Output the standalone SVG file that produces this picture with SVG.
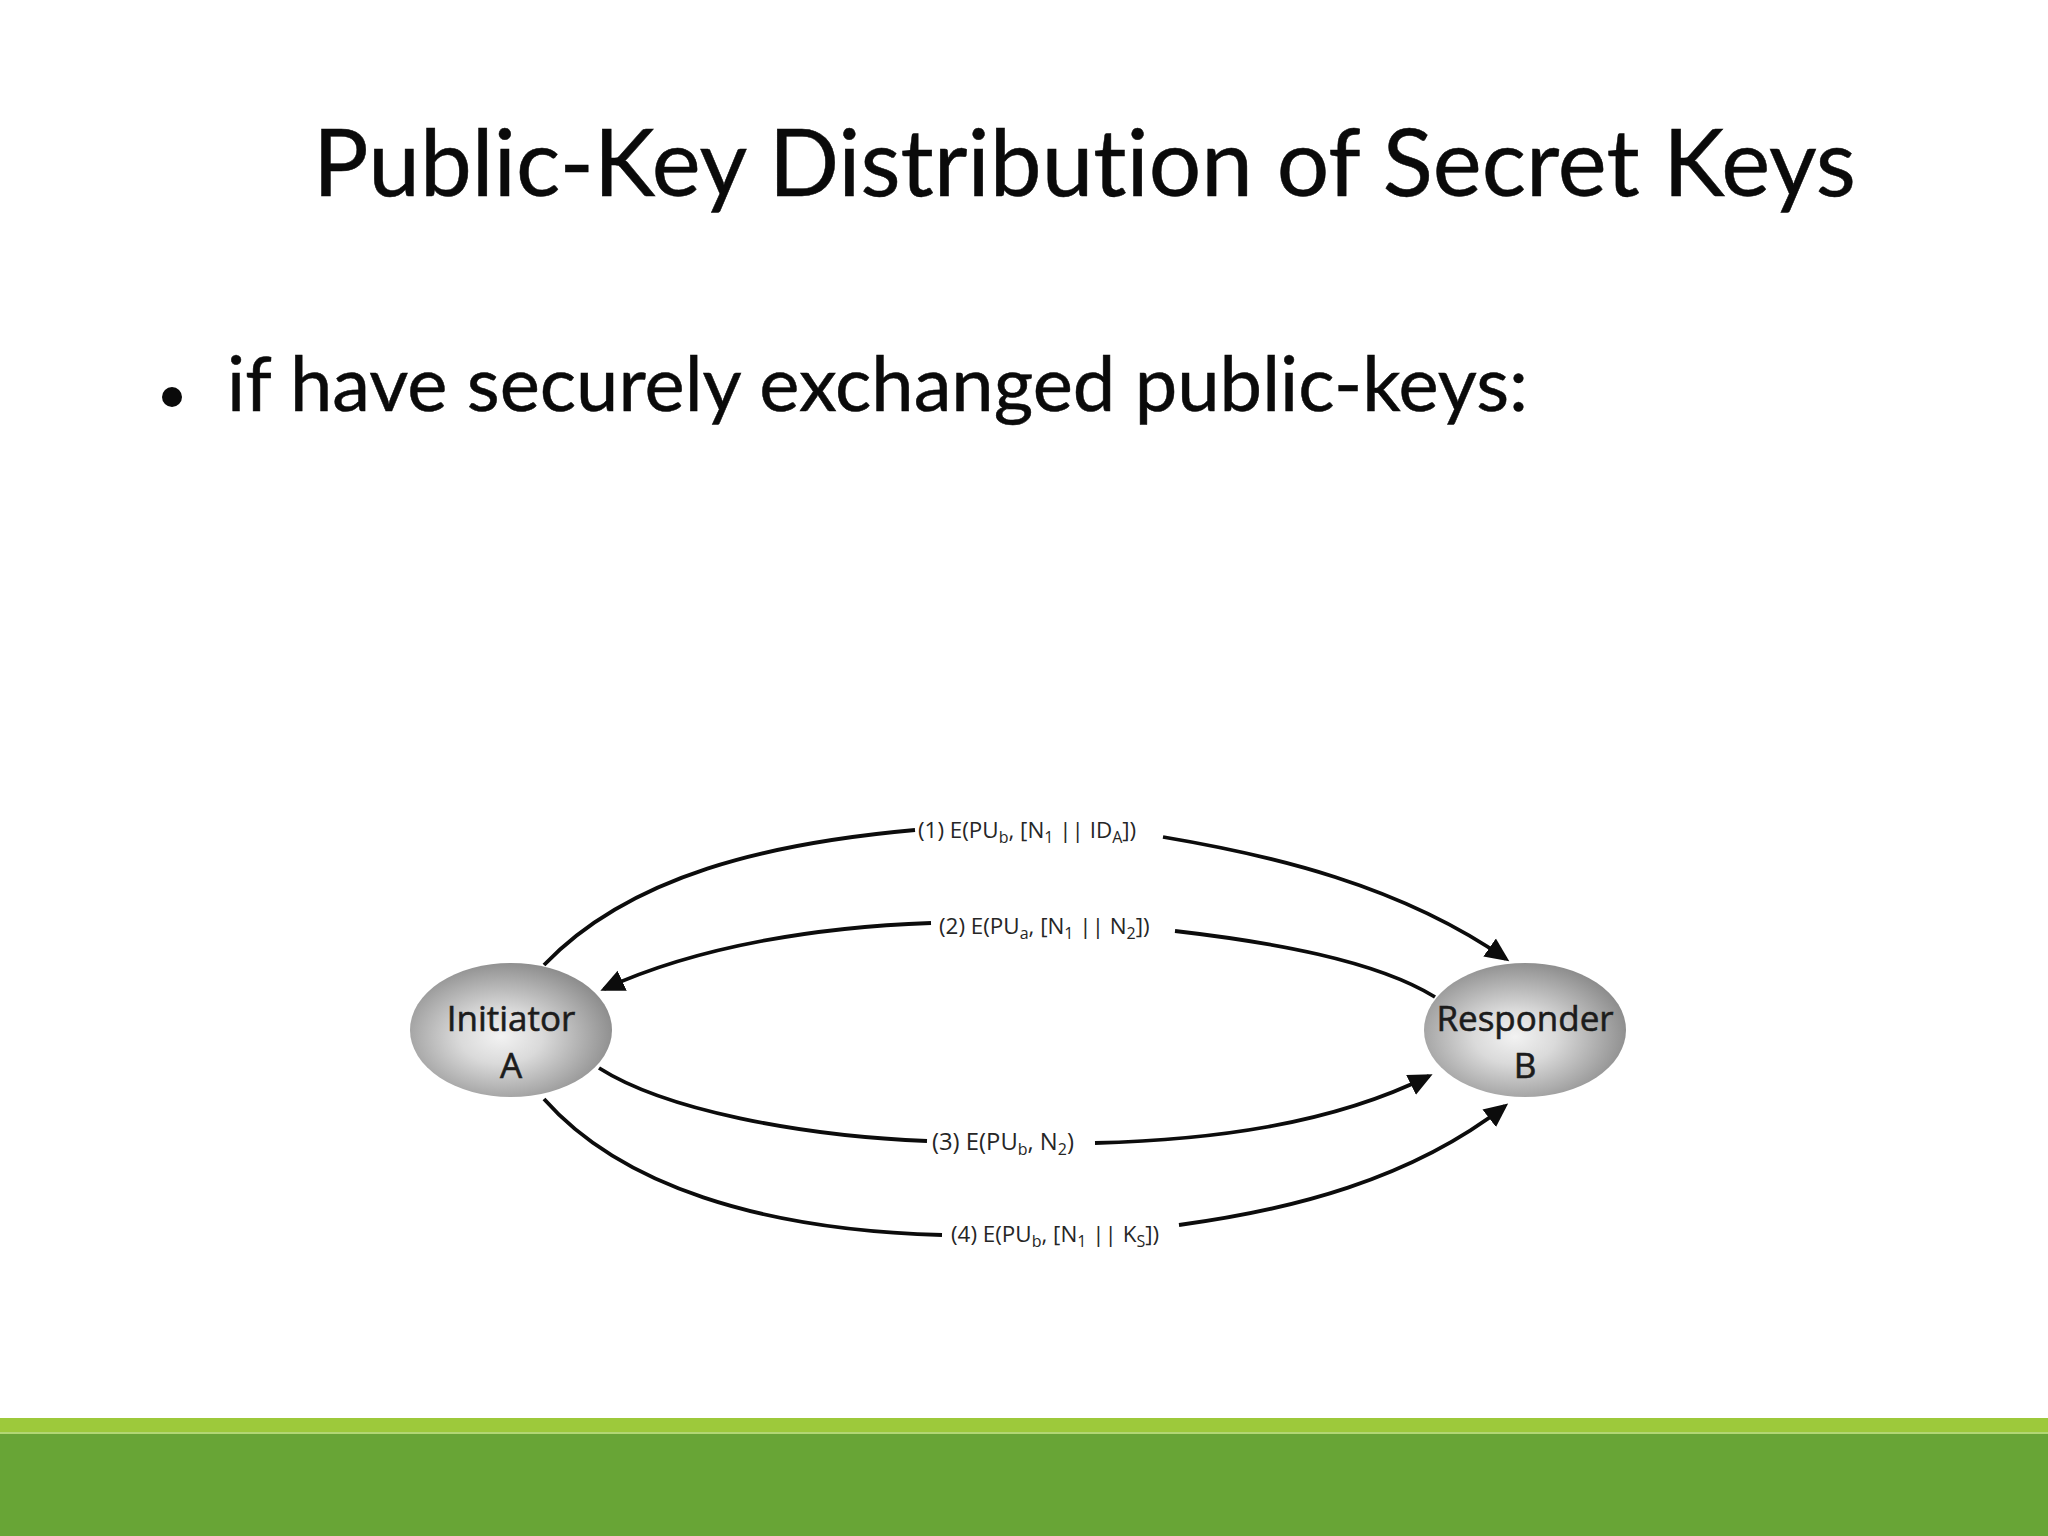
<svg xmlns="http://www.w3.org/2000/svg" width="2048" height="1536" viewBox="0 0 2048 1536">
<style>
.slide{font-family:"Lato","Liberation Sans",sans-serif;fill:#0a0a0a;font-variant-ligatures:none;stroke:#0a0a0a;stroke-width:.5}
.lbl{font-family:"Open Sans","Liberation Sans",sans-serif;font-size:22.4px;fill:#262626}
.sub{font-size:16px}
.node{font-family:"Open Sans","Liberation Sans",sans-serif;font-size:35px;fill:#1c1c1c;stroke:#1c1c1c;stroke-width:.6;text-anchor:middle}
.c{fill:none;stroke:#0c0c0c;stroke-width:3.8}
.a{marker-end:url(#arrow)}
.ball{fill:url(#ball)}
</style>
<defs>
<radialGradient id="ball" cx="0.45" cy="0.55" r="0.58">
<stop offset="0" stop-color="#f2f2f2"/>
<stop offset="0.35" stop-color="#dadada"/>
<stop offset="0.75" stop-color="#a9a9a9"/>
<stop offset="1" stop-color="#8a8a8a"/>
</radialGradient>
<marker id="arrow" markerUnits="userSpaceOnUse" markerWidth="30" markerHeight="26" refX="20" refY="13" orient="auto">
<path d="M0,2 L24,13 L0,24 Z" fill="#0c0c0c"/>
</marker>
</defs>
<rect width="2048" height="1536" fill="#ffffff"/>
<g id="slide-text">
<text class="slide" x="313" y="196" font-size="93" textLength="1543" lengthAdjust="spacingAndGlyphs">Public-Key Distribution of Secret Keys</text>
<circle cx="172" cy="397" r="10" fill="#0a0a0a"/>
<text class="slide" x="227" y="411" font-size="75" textLength="1301" lengthAdjust="spacingAndGlyphs">if have securely exchanged public-keys:</text>
</g>
<g id="footer">
<rect x="0" y="1418" width="2048" height="118" fill="#68a536"/>
<rect x="0" y="1418" width="2048" height="15" fill="#9dc93b"/>
<rect x="0" y="1432" width="2048" height="2" fill="#b2d774"/>
</g>
<g id="connectors">
<path class="c" d="M544,965 C630,875 770,843 915,830"/>
<path class="c a" d="M1163,837 C1270,855 1400,885 1506,959"/>
<path class="c a" d="M931,923 C820,927 700,945 604,989"/>
<path class="c" d="M1175,931 C1270,942 1375,960 1435,997"/>
<path class="c" d="M599,1068 C665,1110 800,1136 927,1141"/>
<path class="c a" d="M1095,1143 C1210,1140 1330,1125 1429,1076"/>
<path class="c" d="M544,1099 C620,1185 760,1230 942,1235"/>
<path class="c a" d="M1179,1225 C1290,1210 1410,1180 1505,1106"/>
</g>
<g id="labels">
<text class="lbl" x="918" y="838">(1) E(PU<tspan class="sub" dy="5">b</tspan><tspan dy="-5">, [N</tspan><tspan class="sub" dy="5">1</tspan><tspan dy="-5"> || ID</tspan><tspan class="sub" dy="5">A</tspan><tspan dy="-5">])</tspan></text>
<text class="lbl" x="939" y="934">(2) E(PU<tspan class="sub" dy="5">a</tspan><tspan dy="-5">, [N</tspan><tspan class="sub" dy="5">1</tspan><tspan dy="-5"> || N</tspan><tspan class="sub" dy="5">2</tspan><tspan dy="-5">])</tspan></text>
<text class="lbl" x="932" y="1150" style="font-size:23.8px">(3) E(PU<tspan class="sub" dy="5">b</tspan><tspan dy="-5">, N</tspan><tspan class="sub" dy="5">2</tspan><tspan dy="-5">)</tspan></text>
<text class="lbl" x="951" y="1242">(4) E(PU<tspan class="sub" dy="5">b</tspan><tspan dy="-5">, [N</tspan><tspan class="sub" dy="5">1</tspan><tspan dy="-5"> || K</tspan><tspan class="sub" dy="5">S</tspan><tspan dy="-5">])</tspan></text>
</g>
<g id="initiator">
<ellipse class="ball" cx="511" cy="1030" rx="101" ry="67"/>
<text class="node" x="511" y="1031">Initiator</text>
<text class="node" x="511" y="1078">A</text>
</g>
<g id="responder">
<ellipse class="ball" cx="1525" cy="1030" rx="101" ry="67"/>
<text class="node" x="1525" y="1031">Responder</text>
<text class="node" x="1525" y="1078">B</text>
</g>
</svg>
